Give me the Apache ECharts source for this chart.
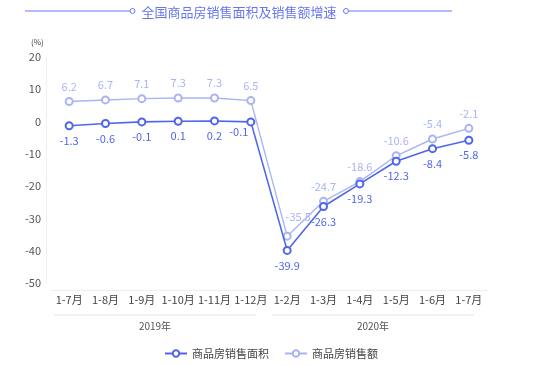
<!DOCTYPE html>
<html><head><meta charset="utf-8">
<script src="https://cdn.jsdelivr.net/npm/echarts@6/dist/echarts.min.js"></script>
<style>html,body{margin:0;padding:0;background:#fff}#c{width:556px;height:367px}</style>
</head><body><div id="c"></div>
<script>
const titleText = '全国商品房销售面积及销售额增速';
const categories = ['1-7月','1-8月','1-9月','1-10月','1-11月','1-12月','1-2月','1-3月','1-4月','1-5月','1-6月','1-7月'];
const areaName = '商品房销售面积';
const amountName = '商品房销售额';
const areaValues = [-1.3, -0.6, -0.1, 0.1, 0.2, -0.1, -39.9, -26.3, -19.3, -12.3, -8.4, -5.8];
const amountValues = [6.2, 6.7, 7.1, 7.3, 7.3, 6.5, -35.5, -24.7, -18.6, -10.6, -5.4, -2.1];
const yTicks = {min: -50, max: 20, interval: 10};
const yearGroups = [{name: '2019年', from: 0, to: 5}, {name: '2020年', from: 6, to: 11}];

const FONT = "'Noto Sans CJK SC', 'Noto Sans', sans-serif";
const C_AREA = '#4f66ea';
const C_AMT = '#aab4f4';
const C_TITLE = '#6676f0';

const chart = echarts.init(document.getElementById('c'), null, {renderer: 'canvas'});

const areaData = areaValues.map((v, i) => {
  if (i === 5) return {value: v, label: {position: 'left', offset: [7, 10]}};
  return v;
});
const amountData = amountValues.map((v, i) => {
  if (i === 6) return {value: v, label: {offset: [11, -4]}};
  return v;
});

const option = {
  animation: false,
  textStyle: {fontFamily: FONT},
  grid: {left: 51, right: 69, top: 57, bottom: 84},
  legend: {
    left: 159, top: 343, itemWidth: 22, itemHeight: 8, itemGap: 15,
    textStyle: {fontSize: 11, color: '#444', fontFamily: FONT},
    data: [areaName, amountName]
  },
  xAxis: {
    type: 'category', data: categories, offset: 7,
    axisLine: {onZero: false, lineStyle: {color: '#eeeeee'}},
    axisTick: {show: false},
    axisLabel: {fontSize: 11, color: '#444', margin: 4, interval: 0, fontFamily: FONT}
  },
  yAxis: {
    type: 'value', min: yTicks.min, max: yTicks.max, interval: yTicks.interval, offset: 5,
    axisLine: {show: true, lineStyle: {color: '#f0f0f0'}},
    axisTick: {show: false},
    splitLine: {show: false},
    axisLabel: {fontSize: 11, color: '#555', margin: 5, fontFamily: FONT}
  },
  series: [
    {
      name: areaName, type: 'line', data: areaData, z: 3,
      symbol: 'emptyCircle', symbolSize: 7,
      lineStyle: {color: C_AREA, width: 1.6},
      itemStyle: {color: C_AREA, borderWidth: 1.6},
      label: {show: true, position: 'bottom', color: C_AREA, fontSize: 11, fontFamily: FONT}
    },
    {
      name: amountName, type: 'line', data: amountData, z: 2,
      symbol: 'emptyCircle', symbolSize: 7,
      lineStyle: {color: C_AMT, width: 1.4},
      itemStyle: {color: C_AMT, borderWidth: 1.4},
      label: {show: true, position: 'top', color: C_AMT, fontSize: 11, fontFamily: FONT}
    }
  ]
};
chart.setOption(option);

// decorations computed from the axis scale
const g = [];
g.push({type: 'text', x: 239, y: 12, style: {text: titleText, fontSize: 13, fill: C_TITLE, align: 'center', verticalAlign: 'middle', fontFamily: FONT}});
g.push({type: 'line', shape: {x1: 25, y1: 11, x2: 130, y2: 11}, style: {stroke: C_TITLE, lineWidth: 1}});
g.push({type: 'circle', shape: {cx: 132.5, cy: 11, r: 2.5}, style: {stroke: C_TITLE, fill: '#fff', lineWidth: 1}});
g.push({type: 'circle', shape: {cx: 346, cy: 11, r: 2.5}, style: {stroke: C_TITLE, fill: '#fff', lineWidth: 1}});
g.push({type: 'line', shape: {x1: 348.5, y1: 11, x2: 452, y2: 11}, style: {stroke: C_TITLE, lineWidth: 1}});
g.push({type: 'text', x: 31, y: 38, style: {text: '(%)', fontSize: 8, fill: '#444', fontFamily: FONT}});
yearGroups.forEach(gr => {
  const x1 = chart.convertToPixel({xAxisIndex: 0}, gr.from) - 15;
  const x2 = chart.convertToPixel({xAxisIndex: 0}, gr.to) + 5;
  g.push({type: 'line', shape: {x1: x1, y1: 315, x2: x2, y2: 315}, style: {stroke: '#e2e2e2', lineWidth: 1}});
  g.push({type: 'text', x: (x1 + x2) / 2, y: 326, style: {text: gr.name, fontSize: 10, fill: '#555', align: 'center', verticalAlign: 'middle', fontFamily: FONT}});
});
chart.setOption({graphic: g});
</script>
</body></html>
